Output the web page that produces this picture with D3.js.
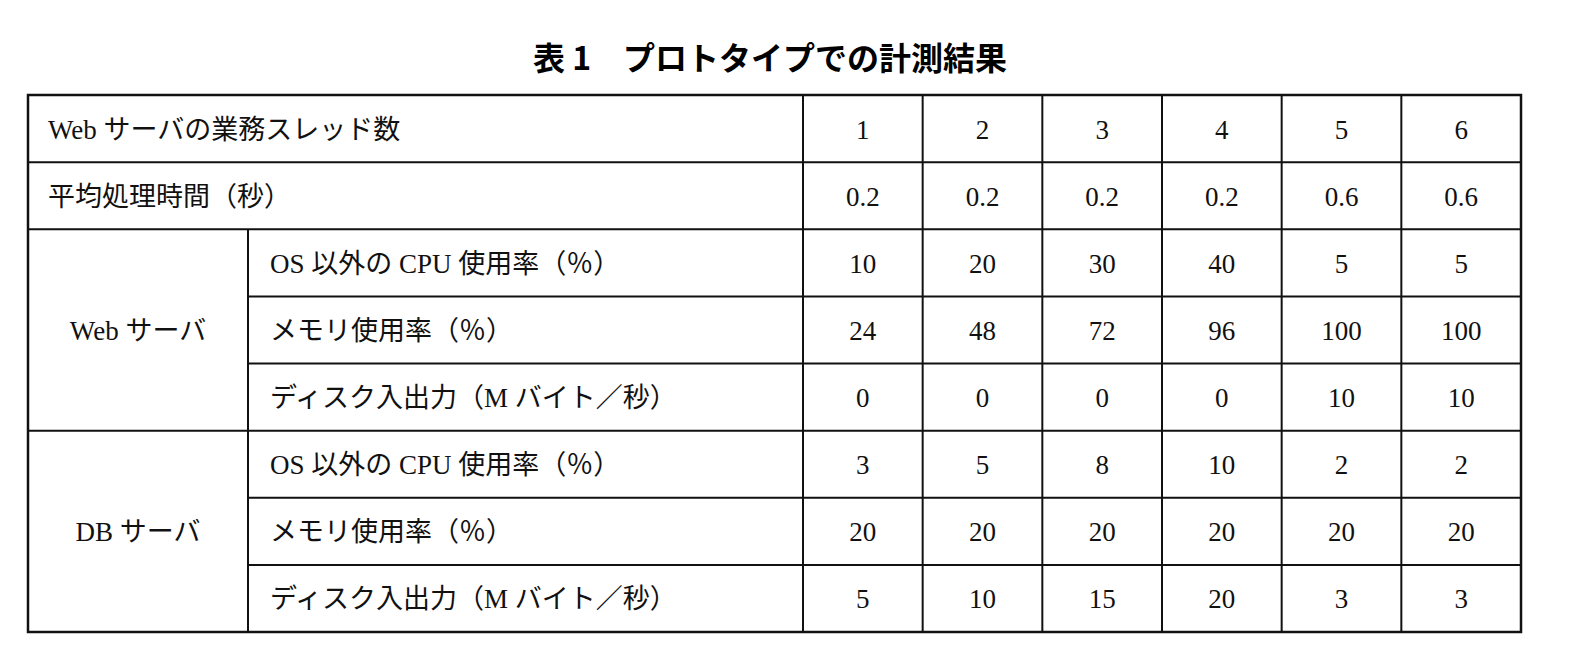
<!DOCTYPE html>
<html><head><meta charset="utf-8">
<script src="https://cdn.jsdelivr.net/npm/d3@7"></script>
<style>body{margin:0;background:#fff}</style>
</head><body>
<script>
const title = "表 1　プロトタイプでの計測結果";
const threads = [1, 2, 3, 4, 5, 6];
const avgTime = ["0.2", "0.2", "0.2", "0.2", "0.6", "0.6"];
const webCpu = [10, 20, 30, 40, 5, 5];
const webMem = [24, 48, 72, 96, 100, 100];
const webDisk = [0, 0, 0, 0, 10, 10];
const dbCpu = [3, 5, 8, 10, 2, 2];
const dbMem = [20, 20, 20, 20, 20, 20];
const dbDisk = [5, 10, 15, 20, 3, 3];

const rows = [
  {group: null, label: "Web サーバの業務スレッド数", vals: threads},
  {group: null, label: "平均処理時間（秒）", vals: avgTime},
  {group: "Web サーバ", label: "OS 以外の CPU 使用率（％）", vals: webCpu},
  {group: "Web サーバ", label: "メモリ使用率（％）", vals: webMem},
  {group: "Web サーバ", label: "ディスク入出力（M バイト／秒）", vals: webDisk},
  {group: "DB サーバ", label: "OS 以外の CPU 使用率（％）", vals: dbCpu},
  {group: "DB サーバ", label: "メモリ使用率（％）", vals: dbMem},
  {group: "DB サーバ", label: "ディスク入出力（M バイト／秒）", vals: dbDisk}
];

const font = "'Liberation Serif', 'Noto Sans CJK JP', serif";
const svg = d3.select("body").append("svg").attr("width", 1574).attr("height", 670);

const left = 28, right = 1521, subX = 248, labelEnd = 803;
const y = d3.scaleBand().domain(d3.range(rows.length)).range([95, 632]);
const x = d3.scaleBand().domain(threads.map((d, i) => i)).range([labelEnd, right]);

svg.append("text").attr("x", 770).attr("y", 70).attr("text-anchor", "middle")
   .style("font-family", "'Noto Sans CJK JP', sans-serif").style("font-weight", "bold")
   .style("font-size", "32px").text(title);

const g = svg.append("g").style("font-family", font).style("font-size", "27px").attr("fill", "#111");

// horizontal lines
rows.forEach((r, i) => {
  if (i === 0) return;
  const prev = rows[i - 1];
  const x0 = (r.group && r.group === prev.group) ? subX : left;
  g.append("line").attr("x1", x0).attr("x2", right).attr("y1", y(i)).attr("y2", y(i))
   .attr("stroke", "#111").attr("stroke-width", 2);
});
// vertical lines
[labelEnd].concat(threads.map((d, i) => x(i))).forEach(xx => {
  g.append("line").attr("x1", xx).attr("x2", xx).attr("y1", 95).attr("y2", 632)
   .attr("stroke", "#111").attr("stroke-width", 2);
});
g.append("line").attr("x1", subX).attr("x2", subX).attr("y1", y(2)).attr("y2", 632)
 .attr("stroke", "#111").attr("stroke-width", 2);
g.append("rect").attr("x", left).attr("y", 95).attr("width", right - left).attr("height", 537)
 .attr("fill", "none").attr("stroke", "#111").attr("stroke-width", 2.5);

// labels
rows.forEach((r, i) => {
  const cy = y(i) + y.bandwidth() / 2 + 10;
  g.append("text").attr("x", r.group ? subX + 22 : left + 20).attr("y", cy).text(r.label);
  r.vals.forEach((v, j) => {
    g.append("text").attr("x", x(j) + x.bandwidth() / 2).attr("y", cy)
     .attr("text-anchor", "middle").text(v);
  });
});
// group labels
["Web サーバ", "DB サーバ"].forEach(gr => {
  const idx = rows.map((r, i) => r.group === gr ? i : -1).filter(i => i >= 0);
  const cy = (y(idx[0]) + y(idx[idx.length - 1]) + y.bandwidth()) / 2 + 10;
  g.append("text").attr("x", (left + subX) / 2).attr("y", cy).attr("text-anchor", "middle").text(gr);
});
</script>
</body></html>
